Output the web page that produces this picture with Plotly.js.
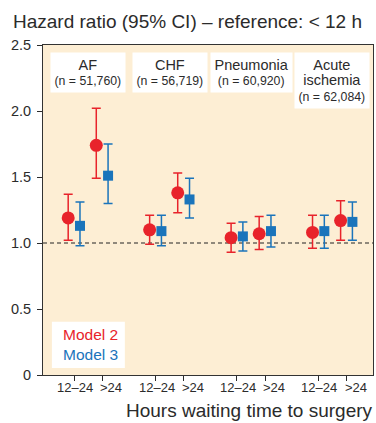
<!DOCTYPE html>
<html>
<head>
<meta charset="utf-8">
<script src="https://cdn.plot.ly/plotly-3.0.1.min.js"></script>
<style>html,body{margin:0;padding:0;background:#fff;}#chart{width:376px;height:423px;}</style>
</head>
<body>
<div id="chart"></div>
<script>
// ---- data ----
const groups = ['AF', 'CHF', 'Pneumonia', 'Acute<br>ischemia'];
const groupN = ['51,760', '56,719', '60,920', '62,084'];
const periods = ['12–24', '>24'];
// order: AF 12–24, AF >24, CHF 12–24, CHF >24, Pneumonia..., Acute ischemia...
const model2 = [1.19, 1.74, 1.10, 1.38, 1.04, 1.07, 1.08, 1.17];
const model2Lo = [1.02, 1.49, 0.99, 1.23, 0.93, 0.95, 0.96, 1.02];
const model2Hi = [1.37, 2.02, 1.21, 1.53, 1.15, 1.20, 1.21, 1.32];
const model3 = [1.13, 1.51, 1.09, 1.33, 1.05, 1.09, 1.09, 1.16];
const model3Lo = [0.98, 1.30, 0.98, 1.19, 0.94, 0.97, 0.96, 1.02];
const model3Hi = [1.31, 1.75, 1.21, 1.49, 1.16, 1.21, 1.21, 1.31];
const yTicks = [0, 0.5, 1.0, 1.5, 2.0, 2.5];
const yTickText = ['0', '0.5', '1.0', '1.5', '2.0', '2.5'];

// ---- layout helpers ----
const RED = '#e8232b', BLUE = '#1a74bb', INK = '#2b2b2b';
const GROUP_STEP = 2.9, OFFSET = 0.21;
const LABEL_SHIFT = [1, 9];
const pos = [];
const tickText = [];
const tickShift = [];
groups.forEach((g, gi) => periods.forEach((p, pi) => {
  pos.push(gi * GROUP_STEP + pi);
  tickText.push(p.replace('>', '&gt;'));
  tickShift.push(LABEL_SHIFT[pi]);
}));

function trace(name, vals, lo, hi, color, symbol, size, off) {
  return {
    type: 'scatter', mode: 'markers', name: name,
    x: pos.map(v => v + off), y: vals,
    marker: {color: color, symbol: symbol, size: size},
    error_y: {type: 'data', symmetric: false,
      array: vals.map((v, i) => hi[i] - v),
      arrayminus: vals.map((v, i) => v - lo[i]),
      color: color, thickness: 1.5, width: 4.5},
    hoverinfo: 'skip', showlegend: false
  };
}

const data = [
  trace('Model 2', model2, model2Lo, model2Hi, RED, 'circle', 13, -OFFSET),
  trace('Model 3', model3, model3Lo, model3Hi, BLUE, 'square', 10, OFFSET)
];

const FONT = 'Liberation Sans, Arial, Helvetica, sans-serif';
const annotations = groups.map((g, gi) => ({
  xref: 'x', yref: 'paper', x: gi * GROUP_STEP + 0.5, y: 0.979,
  xanchor: 'center', yanchor: 'top', showarrow: false,
  text: '<span style="font-size:14.5px">' + g + '</span><br>(n = ' + groupN[gi] + ')',
  font: {family: FONT, size: 12.3, color: INK},
  bgcolor: '#ffffff', borderpad: 3.5, align: 'center'
}));
// x tick labels (drawn as text at the axis positions)
pos.forEach((p, i) => annotations.push({
  xref: 'x', yref: 'paper', x: p, xshift: tickShift[i], y: -0.0364, xanchor: 'center', yanchor: 'middle',
  showarrow: false, text: tickText[i], font: {family: FONT, size: 13, color: INK}, borderpad: 0
}));
annotations.push({
  xref: 'paper', yref: 'paper', x: 0.054, y: 0.092, xanchor: 'left', yanchor: 'middle',
  showarrow: false, align: 'left',
  text: '<span style="color:' + RED + '">Model 2</span><br><span style="color:' + BLUE + '">Model 3</span>',
  font: {family: FONT, size: 15.5}
});
annotations.push({
  xref: 'paper', yref: 'paper', x: 1, xshift: 2, y: -0.109, xanchor: 'right', yanchor: 'middle',
  showarrow: false, text: 'Hours waiting time to surgery',
  font: {family: FONT, size: 19, color: INK}
});

const layout = {
  width: 376, height: 423,
  margin: {l: 43, r: 3, t: 45, b: 48},
  paper_bgcolor: '#ffffff', plot_bgcolor: '#fdeed4',
  font: {family: FONT, color: INK},
  title: {text: 'Hazard ratio (95% CI) – reference: &lt; 12 h', xref: 'container', x: 13 / 376, xanchor: 'left',
    yref: 'container', y: 1 - 21 / 423, yanchor: 'middle', font: {family: FONT, size: 19, color: INK}},
  xaxis: {range: [-1.107, 10.643], tickvals: pos, showticklabels: false, ticks: 'outside', ticklen: 5,
    tickcolor: INK, showgrid: false, zeroline: false, showline: true, mirror: true, linecolor: '#333',
    linewidth: 1, fixedrange: true},
  yaxis: {range: [0, 2.5], tickvals: yTicks, ticktext: yTickText, ticks: 'outside', ticklen: 5,
    tickcolor: INK, showgrid: false, zeroline: false, showline: true, mirror: true, linecolor: '#333',
    linewidth: 1, tickfont: {family: FONT, size: 14.5, color: INK}, ticklabelstandoff: 3, fixedrange: true},
  shapes: [
    {type: 'line', xref: 'paper', yref: 'y', x0: 0, x1: 1, y0: 1, y1: 1, layer: 'below',
      line: {color: '#222', width: 1, dash: '4px,3px'}},
    {type: 'rect', xref: 'paper', yref: 'paper', x0: 0.027, x1: 0.248, y0: 0.021, y1: 0.161,
      fillcolor: '#ffffff', line: {width: 0}, layer: 'below'}
  ],
  annotations: annotations,
  showlegend: false
};

Plotly.newPlot('chart', data, layout, {displayModeBar: false, staticPlot: true});
</script>
</body>
</html>
